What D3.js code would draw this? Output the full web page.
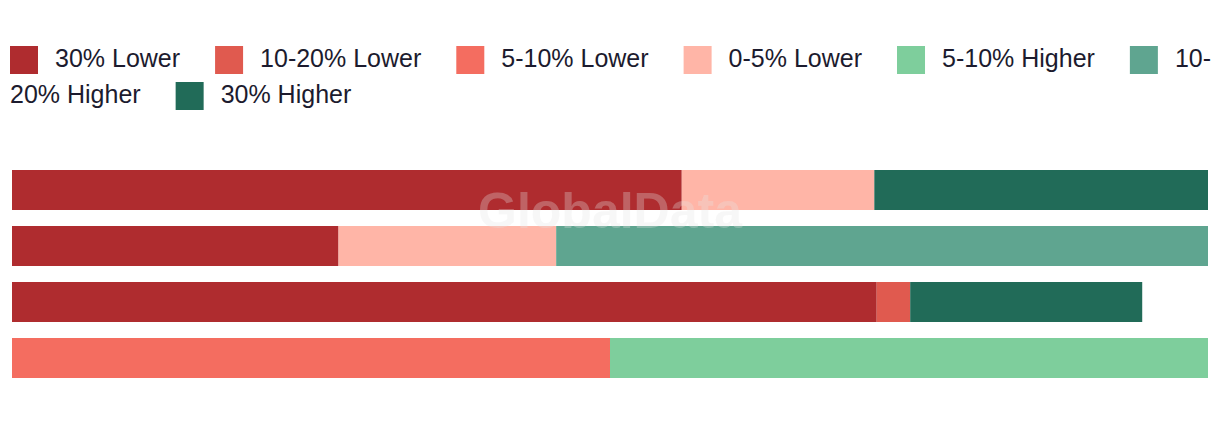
<!DOCTYPE html>
<html>
<head>
<meta charset="utf-8">
<script src="https://cdn.jsdelivr.net/npm/d3@7/dist/d3.min.js"></script>
<style>
  html, body { margin: 0; padding: 0; background: #ffffff; }
  svg { display: block; }
</style>
</head>
<body>
<svg id="chart" width="1220" height="422"></svg>
<script>
// ---- data ----
const rows = ["Row 1", "Row 2", "Row 3", "Row 4"];
const seriesNames = ["30% Lower", "10-20% Lower", "5-10% Lower", "0-5% Lower", "5-10% Higher", "10-20% Higher", "30% Higher"];
const seriesColors = ["#AF2C2F", "#E05A4F", "#F46D60", "#FFB5A7", "#7ECE9C", "#5FA590", "#216B58"];
const lower30   = [56.0, 27.3, 72.3, 0];
const lower1020 = [0, 0, 2.8, 0];
const lower510  = [0, 0, 0, 50.0];
const lower05   = [16.1, 18.2, 0, 0];
const higher510 = [0, 0, 0, 50.0];
const higher1020= [0, 54.5, 0, 0];
const higher30  = [27.9, 0, 19.4, 0];
const seriesValues = [lower30, lower1020, lower510, lower05, higher510, higher1020, higher30];
const xMax = 100;

// ---- build table ----
const table = rows.map((r, i) => {
  const o = { row: r };
  seriesNames.forEach((s, j) => { o[s] = seriesValues[j][i]; });
  return o;
});
const stacked = d3.stack().keys(seriesNames)(table);

const svg = d3.select("#chart");
const textColor = "#1c1b2e";

const x = d3.scaleLinear().domain([0, xMax]).range([12, 1208]);
const y = d3.scaleBand().domain(rows).range([170, 378]).paddingInner(16 / 56).paddingOuter(0);
const color = d3.scaleOrdinal().domain(seriesNames).range(seriesColors);

// bars
svg.append("g").selectAll("g")
  .data(stacked)
  .join("g")
  .attr("fill", d => color(d.key))
  .selectAll("rect")
  .data(d => d.filter(p => p[1] - p[0] > 0))
  .join("rect")
  .attr("x", d => x(d[0]))
  .attr("y", d => y(d.data.row))
  .attr("width", d => x(d[1]) - x(d[0]))
  .attr("height", y.bandwidth());

// watermark
svg.append("text")
  .attr("x", 610).attr("y", 228)
  .attr("text-anchor", "middle")
  .attr("font-family", "Liberation Sans, Arial, sans-serif")
  .attr("font-weight", "bold")
  .attr("font-size", 50)
  .attr("fill", "#e6e6e6")
  .attr("fill-opacity", 0.3)
  .text("GlobalData");

// legend (flowing, wraps like inline text)
const legend = svg.append("g");
const fontSize = 25;
const sw = 28, swGap = 17, itemGap = 35, left = 10, maxRight = 1212;
const lineY = [67, 103];
let lx = left, line = 0;
function measure(t) {
  const tmp = legend.append("text").attr("font-family", "Liberation Sans, Arial, sans-serif").attr("font-size", fontSize).text(t);
  const w = tmp.node().getComputedTextLength();
  tmp.remove();
  return w;
}
function addText(t, xx, ln) {
  legend.append("text")
    .attr("x", xx).attr("y", lineY[ln])
    .attr("font-family", "Liberation Sans, Arial, sans-serif")
    .attr("font-size", fontSize)
    .attr("fill", textColor)
    .text(t);
}
seriesNames.forEach((name, i) => {
  if (lx + sw > maxRight) { line++; lx = left; }
  legend.append("rect")
    .attr("x", lx).attr("y", lineY[line] - 21)
    .attr("width", sw).attr("height", sw)
    .attr("fill", seriesColors[i]);
  let tx = lx + sw + swGap;
  const w = measure(name);
  if (tx + w > maxRight && name.indexOf("-") > 0) {
    const k = name.indexOf("-") + 1;
    const first = name.slice(0, k), rest = name.slice(k);
    addText(first, tx, line);
    line++;
    addText(rest, left, line);
    lx = left + measure(rest) + itemGap;
  } else {
    addText(name, tx, line);
    lx = tx + w + itemGap;
  }
});
</script>
</body>
</html>
